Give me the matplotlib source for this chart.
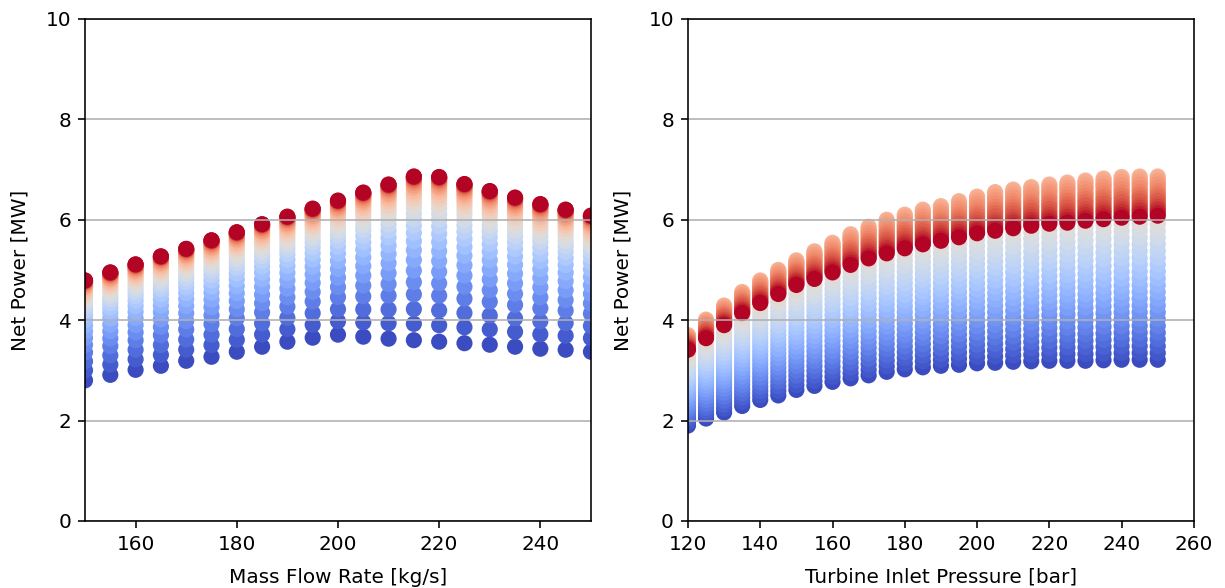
import numpy as np
import matplotlib
matplotlib.use("Agg")
import matplotlib.pyplot as plt

#-----------------------Data-----------------------#

# left plot: one column per mass flow, colored by turbine inlet pressure
mass_flows = [150, 155, 160, 165, 170, 175, 180, 185, 190, 195, 200,
              205, 210, 215, 220, 225, 230, 235, 240, 245, 250]
top_left = [4.79, 4.95, 5.11, 5.27, 5.42, 5.59, 5.75, 5.91, 6.06, 6.22, 6.38,
            6.54, 6.70, 6.86, 6.85, 6.71, 6.57, 6.44, 6.31, 6.20, 6.08]
bot_left = [2.80, 2.91, 3.01, 3.09, 3.19, 3.27, 3.37, 3.47, 3.57, 3.65, 3.71,
            3.67, 3.63, 3.60, 3.57, 3.54, 3.51, 3.47, 3.43, 3.41, 3.37]
# where each pressure step sits inside a left column (0 = bottom, 1 = top)
p_frac = [0.0, 0.10, 0.19, 0.28, 0.355, 0.425, 0.49, 0.55, 0.605, 0.655,
          0.70, 0.74, 0.775, 0.81, 0.84, 0.865, 0.89, 0.91, 0.93, 0.945,
          0.96, 0.972, 0.982, 0.99, 0.995, 0.998, 1.0]

# right plot: one column per pressure, colored by mass flow
pressures = [120, 125, 130, 135, 140, 145, 150, 155, 160, 165, 170, 175, 180, 185,
             190, 195, 200, 205, 210, 215, 220, 225, 230, 235, 240, 245, 250]
bot_right = [1.90, 2.04, 2.16, 2.29, 2.41, 2.50, 2.61, 2.69, 2.77, 2.84, 2.90,
             2.97, 3.02, 3.06, 3.09, 3.11, 3.14, 3.15, 3.17, 3.18, 3.19, 3.19,
             3.19, 3.20, 3.21, 3.21, 3.21]
peak_right = [3.70, 4.01, 4.29, 4.56, 4.79, 5.00, 5.19, 5.37, 5.54, 5.71, 5.86,
              6.00, 6.10, 6.20, 6.27, 6.37, 6.46, 6.55, 6.60, 6.65, 6.70, 6.74,
              6.78, 6.82, 6.85, 6.86, 6.86]
end_right = [3.41, 3.64, 3.90, 4.14, 4.34, 4.52, 4.70, 4.82, 4.95, 5.10, 5.23,
             5.33, 5.43, 5.51, 5.58, 5.65, 5.73, 5.78, 5.83, 5.88, 5.92, 5.94,
             5.98, 6.01, 6.04, 6.06, 6.08]
# mass flow samples inside a right column and their relative position
mf_rise = [150, 152.5, 155, 157.5, 160, 162.5, 165, 167.5, 170, 172.5, 175,
           177.5, 180, 182.5, 185, 187.5, 190, 192.5, 195, 197.5, 200, 202.5,
           205, 207.5, 210, 212.5, 215, 217.5]
rise_frac = [0.0, 0.037, 0.074, 0.111, 0.148, 0.185, 0.222, 0.259, 0.296, 0.333,
             0.370, 0.407, 0.444, 0.481, 0.519, 0.556, 0.593, 0.630, 0.667, 0.704,
             0.741, 0.778, 0.815, 0.852, 0.889, 0.926, 0.963, 1.0]
mf_fall = [220, 222.5, 225, 227.5, 230, 232.5, 235, 237.5, 240, 242.5, 245, 247.5, 250]
fall_frac = [0.05, 0.12, 0.20, 0.29, 0.38, 0.46, 0.54, 0.62, 0.71, 0.78, 0.85, 0.93, 1.0]

#-----------------------Build point sets-----------------------#

# left: loop pressure outer so the high-pressure (red) points end up on top
xl, yl, cl = [], [], []
for j, p in enumerate(pressures):
    for i, mf in enumerate(mass_flows):
        xl.append(mf)
        yl.append(bot_left[i] + (top_left[i] - bot_left[i]) * p_frac[j])
        cl.append(p)

# right: loop mass flow outer so high mass flow (red) is drawn last
xr, yr, cr = [], [], []
for k, mf in enumerate(mf_rise):
    for j, p in enumerate(pressures):
        xr.append(p)
        yr.append(bot_right[j] + (peak_right[j] - bot_right[j]) * rise_frac[k])
        cr.append(mf)
for k, mf in enumerate(mf_fall):
    for j, p in enumerate(pressures):
        xr.append(p)
        yr.append(peak_right[j] - (peak_right[j] - end_right[j]) * fall_frac[k])
        cr.append(mf)

#-----------------------Plot-----------------------#

DPI = 144
fig = plt.figure(figsize=(1225 / DPI, 588 / DPI), dpi=DPI)
ax1 = fig.add_axes([0.0694, 0.114, 0.413, 0.854])
ax2 = fig.add_axes([0.5616, 0.114, 0.413, 0.854])

ax1.scatter(xl, yl, c=cl, cmap="coolwarm", s=50)
ax1.set_xlim(150, 250)
ax1.set_ylim(0, 10)
ax1.set_xticks([160, 180, 200, 220, 240])
ax1.set_xlabel("Mass Flow Rate [kg/s]", labelpad=7)
ax1.set_ylabel("Net Power [MW]", labelpad=8)
ax1.grid(axis="y")

ax2.scatter(xr, yr, c=cr, cmap="coolwarm", s=50)
ax2.set_xlim(120, 260)
ax2.set_ylim(0, 10)
ax2.set_xticks([120, 140, 160, 180, 200, 220, 240, 260])
ax2.set_xlabel("Turbine Inlet Pressure [bar]", labelpad=7)
ax2.set_ylabel("Net Power [MW]", labelpad=8)
ax2.grid(axis="y")

fig.savefig("out.png", dpi=DPI)
